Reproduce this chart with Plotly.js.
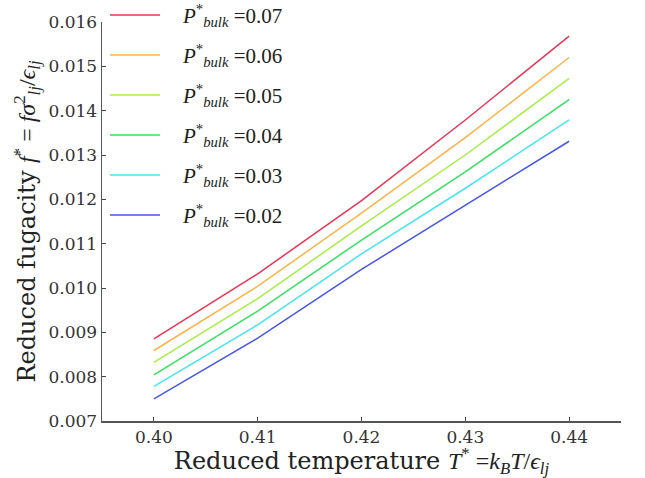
<!DOCTYPE html>
<html>
<head>
<meta charset="utf-8">
<script src="https://cdn.plot.ly/plotly-3.0.1.min.js"></script>
<style>
  body { margin: 0; background: #fff; }
  #plot { width: 645px; height: 478px; }
</style>
</head>
<body>
<div id="plot"></div>
<script>
// reduced temperature T*
const temps = [0.40, 0.41, 0.42, 0.43, 0.44];

// reduced fugacity f* for each bulk pressure
const p07 = [0.00885, 0.01032, 0.01197, 0.01379, 0.01568];
const p06 = [0.00859, 0.01004, 0.01169, 0.01339, 0.01520];
const p05 = [0.00832, 0.00976, 0.01140, 0.01300, 0.01473];
const p04 = [0.00804, 0.00948, 0.01108, 0.01262, 0.01425];
const p03 = [0.00778, 0.00917, 0.01077, 0.01225, 0.01379];
const p02 = [0.00750, 0.00887, 0.01042, 0.01186, 0.01331];

const pressures = ['0.07', '0.06', '0.05', '0.04', '0.03', '0.02'];
const series = [p07, p06, p05, p04, p03, p02];
const colors = ['#ee3355', '#ffb347', '#a6ef45', '#35e25f', '#45e6f2', '#4657e6'];

const xTicks = [0.40, 0.41, 0.42, 0.43, 0.44];
const yTicks = [0.007, 0.008, 0.009, 0.010, 0.011, 0.012, 0.013, 0.014, 0.015, 0.016];

// math bits use a Times-like face, plain words use DejaVu Serif
const mathFont = 'Liberation Serif';
const textFont = 'DejaVu Serif';

// plotly flattens nested tags, so every piece carries its own style
function words(s) {
    return '<span style="font-family:' + textFont + '">' + s + '</span>';
}
function mi(s) {
    return '<span style="font-family:' + mathFont + ';font-style:italic">' + s + '</span>';
}
function mr(s) {
    return '<span style="font-family:' + mathFont + '">' + s + '</span>';
}

function legendLabel(p) {
    return '<i>P</i><sup>*</sup><sub><i>bulk</i></sub> =' + p;
}

const data = series.map((ys, i) => ({
    x: temps,
    y: ys,
    mode: 'lines',
    type: 'scatter',
    name: legendLabel(pressures[i]),
    line: { color: colors[i], width: 1.5 }
}));

// legend drawn by hand (rows sit above the top of the axes, like the original)
const rowTop = 1.0175;
const rowStep = 0.1003;
const legendShapes = colors.map((c, i) => ({
    type: 'line',
    xref: 'paper', yref: 'paper',
    x0: 0.0154, x1: 0.1118,
    y0: rowTop - i * rowStep, y1: rowTop - i * rowStep,
    line: { color: c, width: 1.5 }
}));
const legendNotes = pressures.map((p, i) => ({
    xref: 'paper', yref: 'paper',
    x: 0.150, y: rowTop - i * rowStep,
    xanchor: 'left', yanchor: 'middle',
    showarrow: false,
    text: legendLabel(p),
    font: { family: mathFont, size: 21, color: '#222' }
}));

const xTitle = words('Reduced temperature ') + mi('T') + '<sup>' + mr('*') + '</sup>' + mr(' =') +
    mi('k') + '<sub>' + mi('B') + '</sub>' + mi('T') + mr('/') + mi('ϵ') + '<sub>' + mi('lj') + '</sub>';
const yTitle = words('Reduced fugacity ') + mi('f') + '<sup>' + mr('*') + '</sup>' + mr('&nbsp;=&nbsp;') +
    mi('fσ') + '<sup>' + mr('2') + '</sup><sub>' + mi('lj') + '</sub>' + mr('/') + mi('ϵ') + '<sub>' + mi('lj') + '</sub>';

const layout = {
    width: 645,
    height: 478,
    margin: { l: 102, r: 24, t: 22, b: 57 },
    paper_bgcolor: '#fff',
    plot_bgcolor: '#fff',
    showlegend: false,
    shapes: legendShapes,
    annotations: legendNotes,
    xaxis: {
        range: [0.395, 0.445],
        tickvals: xTicks,
        ticktext: xTicks.map(v => v.toFixed(2)),
        ticks: 'inside',
        ticklen: 4,
        tickcolor: '#444',
        showline: true,
        linecolor: '#555',
        linewidth: 1.5,
        showgrid: false,
        zeroline: false,
        tickfont: { family: textFont, size: 17, color: '#333' },
        title: {
            text: xTitle,
            font: { family: textFont, size: 24, color: '#222' },
            standoff: 9
        }
    },
    yaxis: {
        range: [0.007, 0.016],
        tickvals: yTicks,
        ticktext: yTicks.map(v => v.toFixed(3)),
        ticks: 'inside',
        ticklen: 4,
        tickcolor: '#444',
        showline: true,
        linecolor: '#555',
        linewidth: 1.5,
        showgrid: false,
        zeroline: false,
        tickfont: { family: textFont, size: 17, color: '#333' },
        title: {
            text: yTitle,
            font: { family: textFont, size: 24, color: '#222' },
            standoff: 6
        }
    }
};

Plotly.newPlot('plot', data, layout, { staticPlot: true });
</script>
</body>
</html>
